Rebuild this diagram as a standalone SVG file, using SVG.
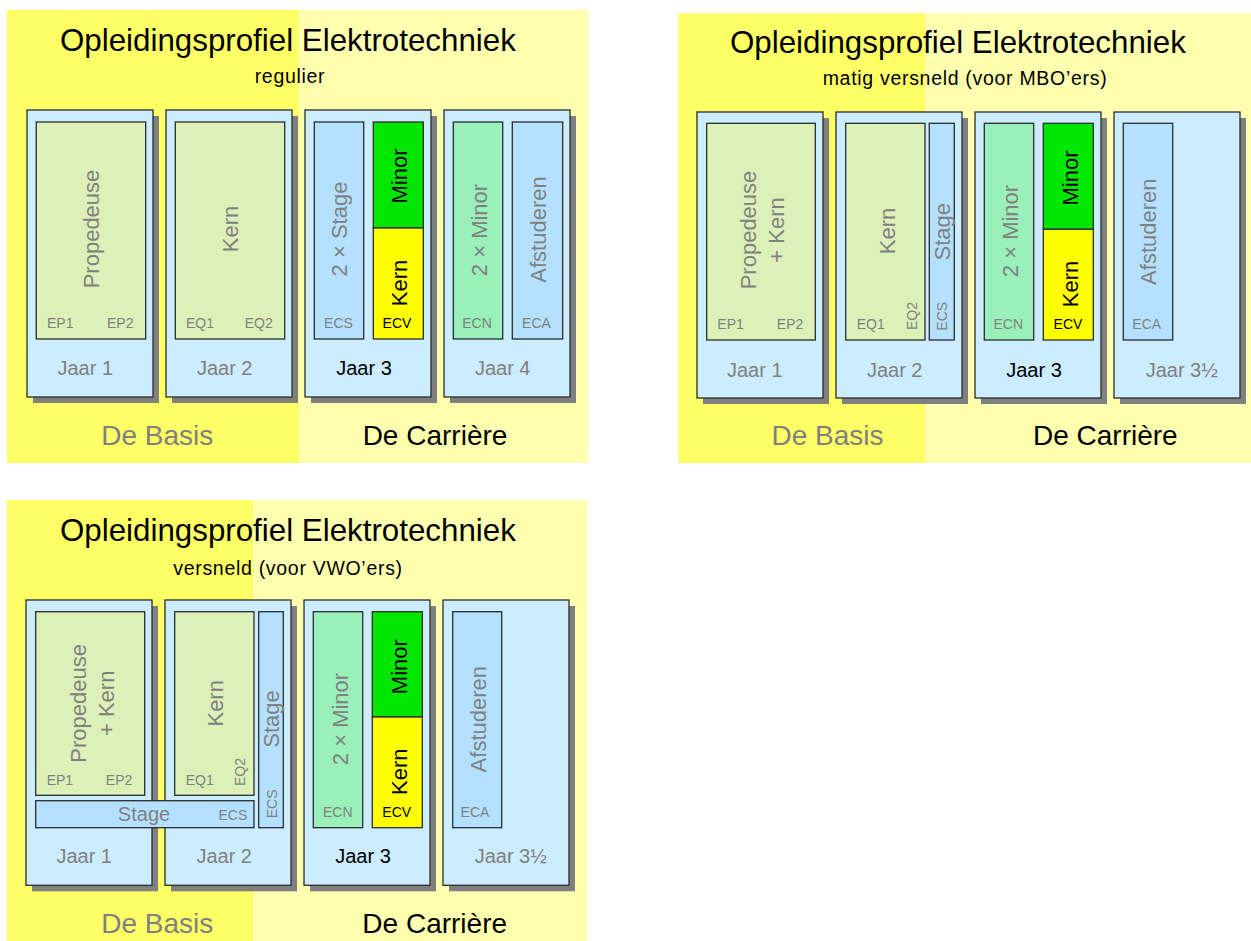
<svg xmlns="http://www.w3.org/2000/svg" width="1251" height="941" viewBox="0 0 1251 941">
  <defs>
    <style>
      text { font-family: "Liberation Sans", Arial, sans-serif; }
      .basis { fill: #FFFF66; }
      .carriere { fill: #FFFFB0; }
      .title { font-size: 31.3px; fill: #000; }
      .sub { font-size: 19.5px; letter-spacing: 0.7px; fill: #000; text-anchor: middle; }
      .shadow { fill: #808080; }
      .year { fill: #CCECFF; stroke: #2b2b2b; stroke-width: 1.3; }
      .prop { fill: #DCF1B8; stroke: #2b2b2b; stroke-width: 1.3; }
      .stage { fill: #B3E1FF; stroke: #2b2b2b; stroke-width: 1.3; }
      .minors { fill: #99F0B8; stroke: #2b2b2b; stroke-width: 1.3; }
      .minor { fill: #00E600; stroke: #2b2b2b; stroke-width: 1.3; }
      .kern { fill: #FFFF00; stroke: #2b2b2b; stroke-width: 1.3; }
      .big { font-size: 22px; fill: #808080; text-anchor: middle; }
      .bigk { font-size: 22px; fill: #000; text-anchor: middle; }
      .code { font-size: 14px; fill: #808080; }
      .codek { font-size: 14px; fill: #000; text-anchor: middle; }
      .mid { text-anchor: middle; }
      .end { text-anchor: end; }
      .jaar { font-size: 20px; fill: #808080; text-anchor: middle; }
      .jaark { font-size: 20px; fill: #000; text-anchor: middle; }
      .fase { font-size: 28px; fill: #808080; text-anchor: middle; }
      .fasek { font-size: 28px; fill: #000; text-anchor: middle; }
    </style>
  </defs>

  <!-- ===== Profile 1: regulier ===== -->
  <g id="profiel-regulier">
    <rect class="basis" x="7" y="10" width="292" height="453"/>
    <rect class="carriere" x="299" y="10" width="289.3" height="453"/>
    <text class="title" x="60" y="51">Opleidingsprofiel Elektrotechniek</text>
    <text class="sub" x="290" y="83">regulier</text>

    <g id="r-jaar1">
      <rect class="shadow" x="33" y="116" width="126" height="287"/>
      <rect class="year" x="27" y="110" width="126" height="287"/>
      <rect class="prop" x="36.3" y="122" width="109.4" height="217"/>
      <text class="big" transform="translate(99,229) rotate(-90)">Propedeuse</text>
      <text class="code" x="47" y="328">EP1</text>
      <text class="code end" x="133.5" y="328">EP2</text>
      <text class="jaar" x="85.3" y="375">Jaar 1</text>
    </g>
    <g id="r-jaar2">
      <rect class="shadow" x="172" y="116" width="126" height="287"/>
      <rect class="year" x="166" y="110" width="126" height="287"/>
      <rect class="prop" x="175.3" y="122" width="109.4" height="217"/>
      <text class="big" transform="translate(238,229) rotate(-90)">Kern</text>
      <text class="code" x="186" y="328">EQ1</text>
      <text class="code end" x="272.7" y="328">EQ2</text>
      <text class="jaar" x="224.7" y="375">Jaar 2</text>
    </g>
    <g id="r-jaar3">
      <rect class="shadow" x="311" y="116" width="126" height="287"/>
      <rect class="year" x="305" y="110" width="126" height="287"/>
      <rect class="stage" x="314.3" y="122" width="49.4" height="217"/>
      <text class="big" transform="translate(347.3,229) rotate(-90)">2 × Stage</text>
      <text class="code mid" x="338.5" y="328">ECS</text>
      <rect class="minor" x="373.3" y="122" width="50" height="106"/>
      <text class="bigk" transform="translate(407,176) rotate(-90)">Minor</text>
      <rect class="kern" x="373.3" y="228" width="50" height="111"/>
      <text class="bigk" transform="translate(407,283) rotate(-90)">Kern</text>
      <text class="codek" x="397" y="328">ECV</text>
      <text class="jaark" x="364" y="375">Jaar 3</text>
    </g>
    <g id="r-jaar4">
      <rect class="shadow" x="450" y="116" width="126" height="287"/>
      <rect class="year" x="444" y="110" width="126" height="287"/>
      <rect class="minors" x="453.3" y="122" width="49.4" height="217"/>
      <text class="big" transform="translate(486.5,230) rotate(-90)">2 × Minor</text>
      <text class="code mid" x="477" y="328">ECN</text>
      <rect class="stage" x="512.3" y="122" width="50.4" height="217"/>
      <text class="big" transform="translate(546,229.5) rotate(-90)">Afstuderen</text>
      <text class="code mid" x="536.5" y="328">ECA</text>
      <text class="jaar" x="502.7" y="375">Jaar 4</text>
    </g>

    <text class="fase" x="157.3" y="445">De Basis</text>
    <text class="fasek" x="435" y="445">De Carrière</text>
  </g>

  <!-- ===== Profile 2: matig versneld ===== -->
  <g id="profiel-matig">
    <rect class="basis" x="678.3" y="13.3" width="246.7" height="449.7"/>
    <rect class="carriere" x="925" y="13.3" width="326" height="449.7"/>
    <text class="title" x="730" y="53">Opleidingsprofiel Elektrotechniek</text>
    <text class="sub" x="965" y="85">matig versneld (voor MBO’ers)</text>

    <g id="m-jaar1">
      <rect class="shadow" x="703" y="118" width="126" height="286"/>
      <rect class="year" x="697" y="112" width="126" height="286"/>
      <rect class="prop" x="706.7" y="123.3" width="108.6" height="216.7"/>
      <text class="big" transform="translate(755.5,230) rotate(-90)">Propedeuse</text>
      <text class="big" transform="translate(783.5,230) rotate(-90)">+ Kern</text>
      <text class="code" x="717.3" y="329">EP1</text>
      <text class="code end" x="803.3" y="329">EP2</text>
      <text class="jaar" x="754.8" y="376.7">Jaar 1</text>
    </g>
    <g id="m-jaar2">
      <rect class="shadow" x="842" y="118" width="126" height="286"/>
      <rect class="year" x="836" y="112" width="126" height="286"/>
      <rect class="prop" x="845.7" y="123.3" width="79.3" height="216.7"/>
      <text class="big" transform="translate(894.8,231) rotate(-90)">Kern</text>
      <text class="code" x="856.7" y="329">EQ1</text>
      <text class="code" transform="translate(916.7,330) rotate(-90)">EQ2</text>
      <rect class="stage" x="929.3" y="123.3" width="25" height="216.7"/>
      <text class="big" transform="translate(949.7,231.7) rotate(-90)">Stage</text>
      <text class="code" transform="translate(946.5,330.7) rotate(-90)">ECS</text>
      <text class="jaar" x="894.7" y="376.7">Jaar 2</text>
    </g>
    <g id="m-jaar3">
      <rect class="shadow" x="981" y="118" width="126" height="286"/>
      <rect class="year" x="975" y="112" width="126" height="286"/>
      <rect class="minors" x="984.3" y="123.3" width="49.4" height="216.7"/>
      <text class="big" transform="translate(1017.5,231) rotate(-90)">2 × Minor</text>
      <text class="code mid" x="1008.3" y="329">ECN</text>
      <rect class="minor" x="1043.3" y="123.3" width="50" height="106"/>
      <text class="bigk" transform="translate(1077.5,178) rotate(-90)">Minor</text>
      <rect class="kern" x="1043.3" y="229.3" width="50" height="110.7"/>
      <text class="bigk" transform="translate(1077.5,284) rotate(-90)">Kern</text>
      <text class="codek" x="1068" y="329">ECV</text>
      <text class="jaark" x="1034" y="376.7">Jaar 3</text>
    </g>
    <g id="m-jaar3half">
      <rect class="shadow" x="1120" y="118" width="126" height="286"/>
      <rect class="year" x="1114" y="112" width="126" height="286"/>
      <rect class="stage" x="1123.3" y="123.3" width="49.4" height="216.7"/>
      <text class="big" transform="translate(1155.8,231.7) rotate(-90)">Afstuderen</text>
      <text class="code mid" x="1146.7" y="329">ECA</text>
      <text class="jaar" x="1181.8" y="376.7">Jaar 3½</text>
    </g>

    <text class="fase" x="827.5" y="445">De Basis</text>
    <text class="fasek" x="1105.3" y="445">De Carrière</text>
  </g>

  <!-- ===== Profile 3: versneld ===== -->
  <g id="profiel-versneld">
    <rect class="basis" x="7" y="500" width="246.3" height="441"/>
    <rect class="carriere" x="253.3" y="500" width="334" height="441"/>
    <text class="title" x="60" y="541">Opleidingsprofiel Elektrotechniek</text>
    <text class="sub" x="288" y="575">versneld (voor VWO’ers)</text>

    <g id="v-jaar1">
      <rect class="shadow" x="32" y="606" width="126" height="285.3"/>
      <rect class="year" x="26" y="600" width="126" height="285.3"/>
      <rect class="prop" x="35.7" y="611.7" width="109" height="183.6"/>
      <text class="big" transform="translate(85.8,703.3) rotate(-90)">Propedeuse</text>
      <text class="big" transform="translate(114,703.3) rotate(-90)">+ Kern</text>
      <text class="code" x="46.7" y="785">EP1</text>
      <text class="code end" x="132.3" y="785">EP2</text>
      <text class="jaar" x="84.2" y="863.3">Jaar 1</text>
    </g>
    <g id="v-jaar2">
      <rect class="shadow" x="171" y="606" width="126" height="285.3"/>
      <rect class="year" x="165" y="600" width="126" height="285.3"/>
      <rect class="prop" x="174.7" y="611.7" width="79.3" height="183.6"/>
      <text class="big" transform="translate(223,703.3) rotate(-90)">Kern</text>
      <text class="code" x="185.7" y="785">EQ1</text>
      <text class="code" transform="translate(245.3,786) rotate(-90)">EQ2</text>
      <rect class="stage" x="258.7" y="611.7" width="24.6" height="216"/>
      <text class="big" transform="translate(279,719) rotate(-90)">Stage</text>
      <text class="code" transform="translate(277,818.3) rotate(-90)">ECS</text>
      <text class="jaar" x="224.2" y="863.3">Jaar 2</text>
    </g>
    <g id="v-jaar3">
      <rect class="shadow" x="310" y="606" width="126" height="285.3"/>
      <rect class="year" x="304" y="600" width="126" height="285.3"/>
      <rect class="minors" x="313.3" y="611.7" width="49.4" height="216"/>
      <text class="big" transform="translate(347.5,719) rotate(-90)">2 × Minor</text>
      <text class="code mid" x="337.8" y="816.7">ECN</text>
      <rect class="minor" x="372.3" y="611.7" width="50" height="105.3"/>
      <text class="bigk" transform="translate(406.5,666.7) rotate(-90)">Minor</text>
      <rect class="kern" x="372.3" y="717" width="50" height="110.7"/>
      <text class="bigk" transform="translate(406.5,771.7) rotate(-90)">Kern</text>
      <text class="codek" x="396.7" y="816.7">ECV</text>
      <text class="jaark" x="363" y="863.3">Jaar 3</text>
    </g>
    <g id="v-jaar3half">
      <rect class="shadow" x="449" y="606" width="126" height="285.3"/>
      <rect class="year" x="443" y="600" width="126" height="285.3"/>
      <rect class="stage" x="452.7" y="611.7" width="49" height="216"/>
      <text class="big" transform="translate(485.8,719.2) rotate(-90)">Afstuderen</text>
      <text class="code mid" x="475" y="816.7">ECA</text>
      <text class="jaar" x="510.8" y="863.3">Jaar 3½</text>
    </g>
    <!-- internship spanning year 1 and year 2 -->
    <g id="v-stage-bar">
      <rect class="stage" x="35.7" y="800.7" width="218.3" height="27"/>
      <text class="jaar" x="144" y="821">Stage</text>
      <text class="code end" x="247.3" y="820">ECS</text>
    </g>

    <text class="fase" x="157.2" y="933.3">De Basis</text>
    <text class="fasek" x="434.7" y="933.3">De Carrière</text>
  </g>
</svg>
